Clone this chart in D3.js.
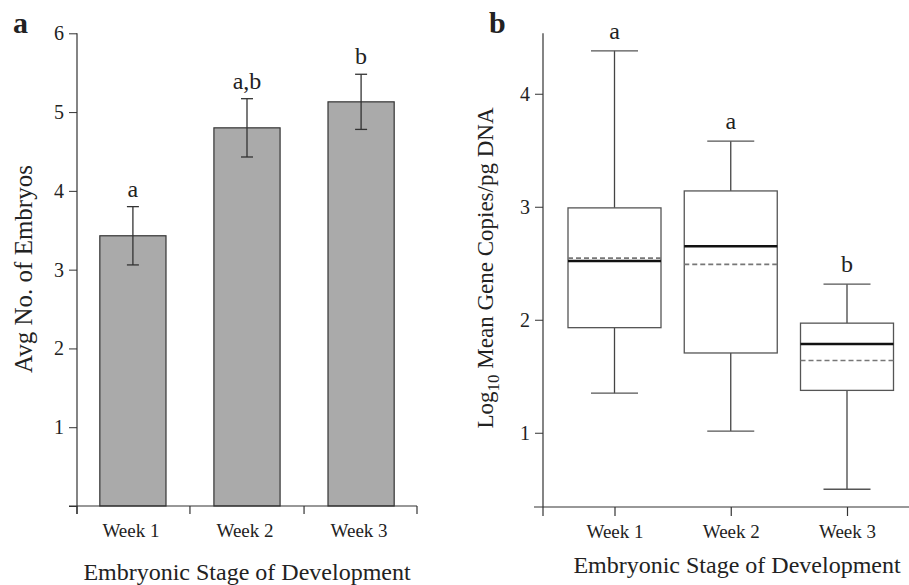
<!DOCTYPE html>
<meta charset="utf-8">
<style>
body { margin: 0; background: #fff; }
text { font-family: "Liberation Serif", "Times New Roman", serif; fill: #222; }
.tick text { font-size: 20px; }
.panel { font: bold 30px "Liberation Serif", serif; }
</style>
<svg width="909" height="585"></svg>
<script src="https://d3js.org/d3.v7.min.js"></script>
<script>

var weeks = ["Week 1", "Week 2", "Week 3"]

// panel a: average embryos, mean and error bar ends
var avgEmbryos = [3.43, 4.80, 5.13]
var errLow = [3.06, 4.43, 4.78]
var errHigh = [3.80, 5.17, 5.48]
var barLetters = ["a", "a,b", "b"]

// panel b: log10 gene copies box stats
var whiskLow = [1.35, 1.015, 0.50]
var q1 = [1.93, 1.706, 1.375]
var median = [2.52, 2.65, 1.785]
var mean = [2.545, 2.49, 1.64]
var q3 = [2.99, 3.14, 1.97]
var whiskHigh = [4.38, 3.58, 2.315]
var boxLetters = ["a", "a", "b"]

var yTicksA = [1, 2, 3, 4, 5, 6]
var yTicksB = [1, 2, 3, 4]

var serif = "Liberation Serif, Times New Roman, serif"
var svg = d3.select("svg")

// ---------- panel a ----------
var ga = svg.append("g")

var xa = d3.scaleBand().domain(weeks).range([77, 417]).paddingInner(0.42).paddingOuter(0.2)
var ya = d3.scaleLinear().domain([0, 6]).range([506, 33.3])

ga.selectAll("rect.bar").data(weeks).enter().append("rect")
  .attr("class", "bar")
  .attr("x", function(d){ return xa(d) })
  .attr("width", xa.bandwidth())
  .attr("y", function(d,i){ return ya(avgEmbryos[i]) })
  .attr("height", function(d,i){ return ya(0) - ya(avgEmbryos[i]) })
  .attr("fill", "#aaaaaa")
  .attr("stroke", "#333")
  .attr("stroke-width", 1.2)

var errA = ga.selectAll("g.err").data(weeks).enter().append("g")
  .attr("transform", function(d){ return "translate(" + (xa(d) + xa.bandwidth()/2) + ",0)" })
  .attr("stroke", "#333").attr("stroke-width", 1.3)
errA.append("line").attr("y1", function(d,i){ return ya(errLow[i]) }).attr("y2", function(d,i){ return ya(errHigh[i]) })
errA.append("line").attr("x1", -6).attr("x2", 6).attr("y1", function(d,i){ return ya(errLow[i]) }).attr("y2", function(d,i){ return ya(errLow[i]) })
errA.append("line").attr("x1", -6).attr("x2", 6).attr("y1", function(d,i){ return ya(errHigh[i]) }).attr("y2", function(d,i){ return ya(errHigh[i]) })

ga.selectAll("text.sig").data(weeks).enter().append("text")
  .attr("x", function(d){ return xa(d) + xa.bandwidth()/2 })
  .attr("y", function(d,i){ return ya(errHigh[i]) - 10 })
  .attr("text-anchor", "middle")
  .style("font-size", "24px")
  .text(function(d,i){ return barLetters[i] })

var yAxisA = ga.append("g").attr("transform", "translate(77,0)")
  .call(d3.axisLeft(ya).tickValues([0].concat(yTicksA)).tickSize(8).tickPadding(5)
    .tickFormat(function(d){ return d === 0 ? "" : d }))
  .attr("font-family", serif)
yAxisA.select(".domain").remove()
yAxisA.selectAll(".tick line").attr("stroke", "#333")

// axis lines
ga.append("line").attr("x1", 77).attr("x2", 77).attr("y1", ya(6)).attr("y2", 514).attr("stroke", "#333").attr("stroke-width", 1.2)
ga.append("line").attr("x1", 69).attr("x2", 417).attr("y1", ya(0)).attr("y2", ya(0)).attr("stroke", "#333").attr("stroke-width", 1.2)

// x ticks at band boundaries
var centersA = weeks.map(function(d){ return xa(d) + xa.bandwidth()/2 })
var boundsA = [77, (centersA[0]+centersA[1])/2, (centersA[1]+centersA[2])/2, 417]
ga.selectAll("line.xt").data(boundsA).enter().append("line")
  .attr("x1", function(d){ return d }).attr("x2", function(d){ return d })
  .attr("y1", ya(0)).attr("y2", 514).attr("stroke", "#333").attr("stroke-width", 1.2)

ga.selectAll("text.wk").data(weeks).enter().append("text")
  .attr("x", function(d,i){ return centersA[i] - 2 })
  .attr("y", 537)
  .attr("text-anchor", "middle")
  .style("font-size", "19px")
  .text(function(d){ return d })

ga.append("text").attr("x", 247).attr("y", 580).attr("text-anchor", "middle")
  .style("font-size", "24px").text("Embryonic Stage of Development")

ga.append("text").attr("transform", "translate(32,269) rotate(-90)").attr("text-anchor", "middle")
  .style("font-size", "25px").text("Avg No. of Embryos")

ga.append("text").attr("class", "panel").attr("x", 13).attr("y", 33).text("a")

// ---------- panel b ----------
var gb = svg.append("g")

var xb = d3.scalePoint().domain(weeks).range([614.5, 847])
var yb = d3.scaleLinear().domain([0.343, 4.535]).range([507, 33.3])
var boxW = 93, capW = 47

var yAxisB = gb.append("g").attr("transform", "translate(543,0)")
  .call(d3.axisLeft(yb).tickValues(yTicksB).tickSize(8).tickPadding(5).tickFormat(d3.format("d")))
  .attr("font-family", serif)
yAxisB.select(".domain").remove()
yAxisB.selectAll(".tick line").attr("stroke", "#333")

gb.append("line").attr("x1", 543).attr("x2", 543).attr("y1", yb.range()[1]).attr("y2", 516).attr("stroke", "#333").attr("stroke-width", 1.2)
gb.append("line").attr("x1", 534).attr("x2", 918).attr("y1", 507).attr("y2", 507).attr("stroke", "#333").attr("stroke-width", 1.2)

var xAxisB = gb.append("g").attr("transform", "translate(0,507)")
  .call(d3.axisBottom(xb).tickSize(9).tickPadding(12))
  .attr("font-family", serif)
xAxisB.select(".domain").remove()
xAxisB.selectAll(".tick line").attr("stroke", "#333").attr("stroke-width", 1.2)
xAxisB.selectAll(".tick text").style("font-size", "19px").attr("dy", 0).attr("y", 31)

var box = gb.selectAll("g.box").data(weeks).enter().append("g")
  .attr("transform", function(d){ return "translate(" + xb(d) + ",0)" })

box.append("line").attr("y1", function(d,i){ return yb(whiskLow[i]) }).attr("y2", function(d,i){ return yb(q1[i]) })
  .attr("stroke", "#444").attr("stroke-width", 1.3)
box.append("line").attr("y1", function(d,i){ return yb(q3[i]) }).attr("y2", function(d,i){ return yb(whiskHigh[i]) })
  .attr("stroke", "#444").attr("stroke-width", 1.3)
box.append("line").attr("x1", -capW/2).attr("x2", capW/2)
  .attr("y1", function(d,i){ return yb(whiskLow[i]) }).attr("y2", function(d,i){ return yb(whiskLow[i]) })
  .attr("stroke", "#555").attr("stroke-width", 1.3)
box.append("line").attr("x1", -capW/2).attr("x2", capW/2)
  .attr("y1", function(d,i){ return yb(whiskHigh[i]) }).attr("y2", function(d,i){ return yb(whiskHigh[i]) })
  .attr("stroke", "#555").attr("stroke-width", 1.3)
box.append("rect").attr("x", -boxW/2).attr("width", boxW)
  .attr("y", function(d,i){ return yb(q3[i]) })
  .attr("height", function(d,i){ return yb(q1[i]) - yb(q3[i]) })
  .attr("fill", "#fff").attr("stroke", "#555").attr("stroke-width", 1.3)
box.append("line").attr("x1", -boxW/2).attr("x2", boxW/2)
  .attr("y1", function(d,i){ return yb(mean[i]) }).attr("y2", function(d,i){ return yb(mean[i]) })
  .attr("stroke", "#777").attr("stroke-width", 1.6).attr("stroke-dasharray", "5,3")
box.append("line").attr("x1", -boxW/2).attr("x2", boxW/2)
  .attr("y1", function(d,i){ return yb(median[i]) }).attr("y2", function(d,i){ return yb(median[i]) })
  .attr("stroke", "#111").attr("stroke-width", 2.4)
box.append("text")
  .attr("y", function(d,i){ return yb(whiskHigh[i]) - 12 })
  .attr("text-anchor", "middle")
  .style("font-size", "24px")
  .text(function(d,i){ return boxLetters[i] })

var ylab = gb.append("text").attr("transform", "translate(493,268) rotate(-90)").attr("text-anchor", "middle")
  .style("font-size", "23px")
ylab.append("tspan").text("Log")
ylab.append("tspan").attr("dy", 6).style("font-size", "17px").text("10")
ylab.append("tspan").attr("dy", -6).text(" Mean Gene Copies/pg DNA")

gb.append("text").attr("x", 737).attr("y", 573).attr("text-anchor", "middle")
  .style("font-size", "24px").text("Embryonic Stage of Development")

gb.append("text").attr("class", "panel").attr("x", 489).attr("y", 33).text("b")

</script>
